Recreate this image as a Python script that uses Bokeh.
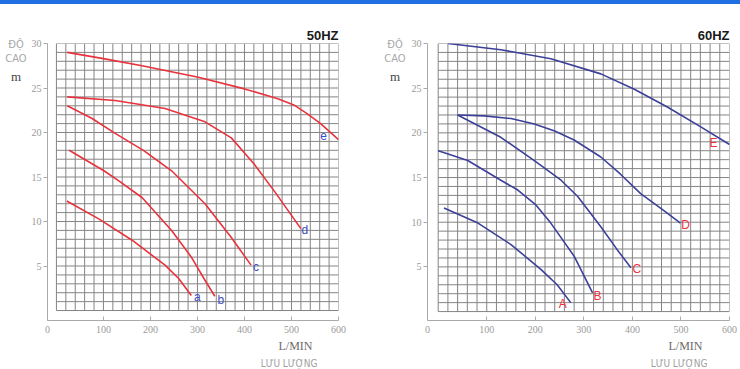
from bokeh.plotting import figure
from bokeh.models import Range1d, FixedTicker, Div, Title
from bokeh.layouts import column, row
from bokeh.core.properties import value
from bokeh.embed import file_html
from bokeh.resources import INLINE

# ---------------- data ----------------
x_ticks = [0, 100, 200, 300, 400, 500, 600]
y_ticks = [5, 10, 15, 20, 25, 30]
grid_x = list(range(0, 601, 20))
grid_y = list(range(0, 31, 1))

# 50 Hz curves (flow L/min, head m)
hz50_names = ["a", "b", "c", "d", "e"]
hz50_a_x = [22, 90, 161, 231, 260, 287]
hz50_a_y = [12.3, 10.3, 7.9, 5.1, 3.6, 1.7]
hz50_b_x = [27, 101, 132, 182, 245, 287, 316, 337]
hz50_b_y = [18.0, 15.7, 14.6, 12.7, 9.0, 6.0, 3.4, 1.6]
hz50_c_x = [23, 75, 125, 185, 245, 316, 372, 414]
hz50_c_y = [23.0, 21.6, 19.9, 18.0, 15.7, 12.0, 8.2, 5.1]
hz50_d_x = [23, 125, 231, 316, 372, 420, 465, 520]
hz50_d_y = [24.0, 23.6, 22.7, 21.2, 19.4, 16.5, 13.3, 9.2]
hz50_e_x = [23, 100, 182, 302, 400, 471, 505, 534, 562, 600]
hz50_e_y = [29.0, 28.3, 27.5, 26.2, 24.9, 23.8, 23.1, 22.1, 21.0, 19.2]

# 60 Hz curves
hz60_names = ["A", "B", "C", "D", "E"]
hz60_a_x = [12, 82, 150, 212, 245, 273]
hz60_a_y = [11.6, 9.9, 7.5, 4.7, 3.0, 1.0]
hz60_b_x = [0, 61, 129, 164, 200, 232, 280, 318]
hz60_b_y = [18.0, 16.9, 14.7, 13.6, 12.0, 9.9, 6.2, 2.1]
hz60_c_x = [40, 129, 198, 253, 287, 335, 369, 397]
hz60_c_y = [22.0, 19.5, 16.9, 14.7, 12.9, 9.5, 6.9, 4.9]
hz60_d_x = [40, 95, 150, 198, 240, 280, 335, 375, 417, 460, 499]
hz60_d_y = [22.0, 21.9, 21.6, 21.0, 20.2, 19.2, 17.3, 15.4, 13.2, 11.5, 9.9]
hz60_e_x = [20, 129, 232, 335, 403, 472, 540, 600]
hz60_e_y = [30.0, 29.3, 28.3, 26.6, 24.9, 22.9, 20.7, 18.7]

hz50_curves = [(hz50_a_x, hz50_a_y), (hz50_b_x, hz50_b_y), (hz50_c_x, hz50_c_y),
               (hz50_d_x, hz50_d_y), (hz50_e_x, hz50_e_y)]
hz60_curves = [(hz60_a_x, hz60_a_y), (hz60_b_x, hz60_b_y), (hz60_c_x, hz60_c_y),
               (hz60_d_x, hz60_d_y), (hz60_e_x, hz60_e_y)]

# label pixel offsets from curve end (styling)
hz50_offsets = [(6, 2), (6, 4), (5, 2), (4, 1), (-15, -4)]
hz60_offsets = [(-8, 1), (5, 3), (6, 1), (5, 2), (-16, -1)]

SERIF = "Liberation Serif"
NARROW = "'DejaVu Sans Condensed', 'Liberation Sans Narrow', 'Liberation Sans', sans-serif"
FIG_H = 365
BORDER_TOP = 39


def side_caption(width, pad_left):
    html = (
        f'<div style="position:relative;width:{width}px;height:100px;text-align:center;">'
        f'<div style="position:absolute;left:{pad_left}px;right:0;top:34px;line-height:14px;'
        f'font-family:{NARROW};font-size:11px;color:#a8a8a8;white-space:nowrap;">ĐỘ</div>'
        f'<div style="position:absolute;left:{pad_left}px;right:0;top:48px;line-height:14px;'
        f'font-family:{NARROW};font-size:11px;color:#a8a8a8;white-space:nowrap;">CAO</div>'
        f'<div style="position:absolute;left:{pad_left}px;right:0;top:66px;line-height:14px;'
        f"font-family:'Liberation Serif',serif;font-size:13px;color:#444444;\">m</div>"
        '</div>'
    )
    return Div(text=html, width=width, height=FIG_H, margin=0)


def make_chart(title, curves, names, offsets, line_color, label_color,
               x_start, y_start, width, border_left, border_right, border_bottom,
               foot_offsets):
    p = figure(width=width, height=FIG_H,
               x_range=Range1d(x_start, 600), y_range=Range1d(y_start, 30),
               output_backend="svg", toolbar_location=None,
               min_border_left=border_left, min_border_right=border_right,
               min_border_top=BORDER_TOP, min_border_bottom=border_bottom,
               title=title)
    p.outline_line_color = None
    p.xgrid.visible = False
    p.ygrid.visible = False

    p.title.align = "right"
    p.title.text_font = "Liberation Sans"
    p.title.text_font_style = "bold"
    p.title.text_font_size = "13px"
    p.title.text_color = "#1a1a1a"
    p.title.standoff = 1

    # grid
    p.segment(x0=grid_x, y0=[0] * len(grid_x), x1=grid_x, y1=[30] * len(grid_x),
              line_color="#858585", line_width=1)
    p.segment(x0=[0] * len(grid_y), y0=grid_y, x1=[600] * len(grid_y), y1=grid_y,
              line_color="#858585", line_width=1)

    # curves
    for (cx, cy), name, (ox, oy) in zip(curves, names, offsets):
        p.line(cx, cy, line_color=line_color, line_width=1.6)
        p.text(x=[cx[-1]], y=[cy[-1]], text=[name], x_offset=ox, y_offset=oy,
               text_align="center", text_baseline="middle",
               text_font=value("Liberation Sans"), text_font_size="12px",
               text_color=label_color)

    # axes
    xt = [x_start if t == 0 else t for t in x_ticks]
    p.xaxis.ticker = FixedTicker(ticks=xt)
    p.xaxis.major_label_overrides = {x_start: "0"}
    p.yaxis.ticker = FixedTicker(ticks=y_ticks)
    for ax in (p.xaxis, p.yaxis):
        ax.axis_line_color = "#aaaaaa"
        ax.major_tick_line_color = "#aaaaaa"
        ax.minor_tick_line_color = None
        ax.major_label_text_font = SERIF
        ax.major_label_text_font_size = "10px"
        ax.major_label_text_color = "#9a9a9a"
    p.xaxis.major_tick_in = 4
    p.xaxis.major_tick_out = 0
    p.xaxis.major_label_standoff = 5
    p.yaxis.major_tick_in = 0
    p.yaxis.major_tick_out = 4
    p.yaxis.major_label_standoff = 2

    # captions below the x axis
    p.add_layout(Title(text="L/MIN", align="right", offset=foot_offsets[0], standoff=3,
                       text_font=SERIF, text_font_size="12px", text_font_style="normal",
                       text_color="#6a6a6a"), "below")
    p.add_layout(Title(text="LƯU LƯỢNG", align="right", offset=foot_offsets[1], standoff=2,
                       text_font=NARROW, text_font_size="10px", text_font_style="normal",
                       text_color="#a0a0a0"), "below")
    return p


capL = side_caption(28, 4)
p1 = make_chart("50HZ", hz50_curves, hz50_names, hz50_offsets, "#e8323c", "#3b4ec2",
                -19, -1.12, 344, 17, 34, 49, (26, 21))
capR = side_caption(36, 10)
p2 = make_chart("60HZ", hz60_curves, hz60_names, hz60_offsets, "#3c4099", "#f0323c",
                -22, -1.0, 332, 18, 11, 48, (27, 22))

band = Div(text="", width=740, height=4, margin=0,
           styles={"background-color": "#1f6fe3"})
layout = column(band, row(capL, p1, capR, p2, spacing=0), spacing=0)

open("out.html", "w").write(file_html(layout, INLINE))
